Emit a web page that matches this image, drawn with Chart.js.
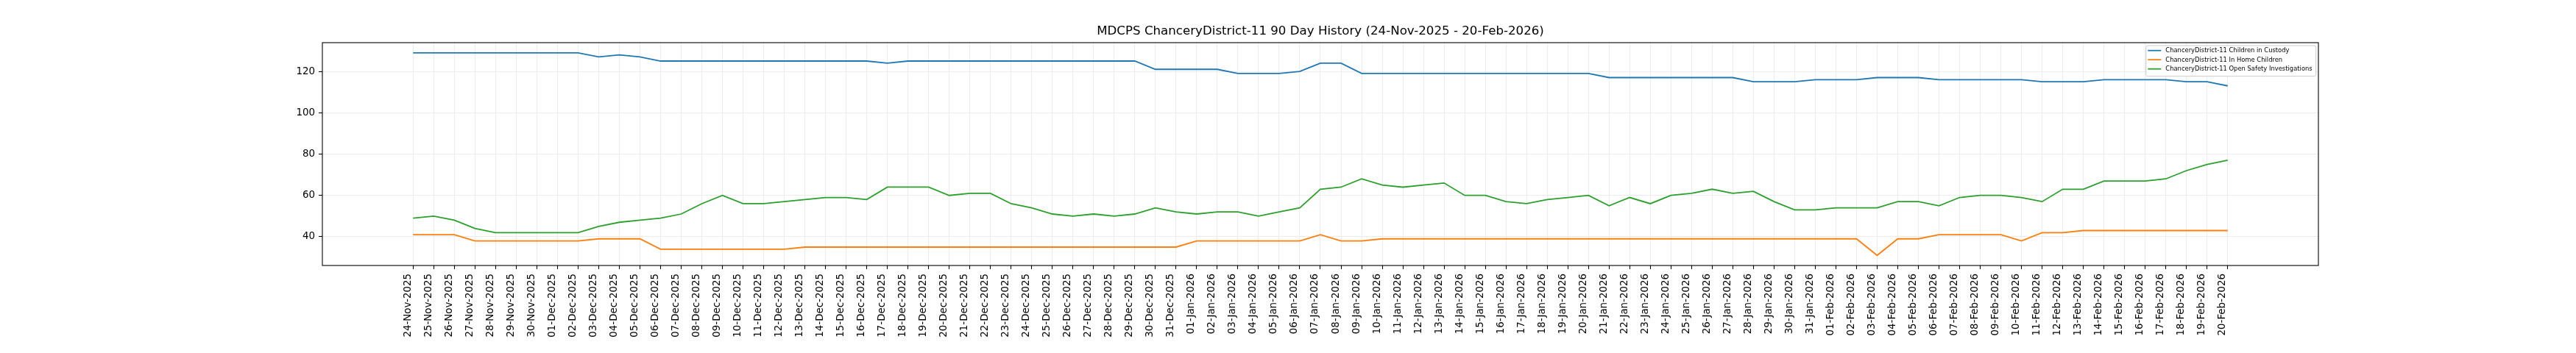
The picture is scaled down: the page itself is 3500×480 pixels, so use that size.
<!DOCTYPE html>
<html><head><meta charset="utf-8">
<script src="https://cdn.jsdelivr.net/npm/chart.js@4.4.1/dist/chart.umd.min.js"></script>
<style>html,body{margin:0;padding:0;background:#fff;}#wrap{width:3500px;height:480px;position:relative;}</style>
</head><body><div id="wrap"><canvas id="c"></canvas></div>
<script>
const chartTitle = 'MDCPS ChanceryDistrict-11 90 Day History (24-Nov-2025 - 20-Feb-2026)';
const dates = [
'24-Nov-2025','25-Nov-2025','26-Nov-2025','27-Nov-2025','28-Nov-2025','29-Nov-2025','30-Nov-2025',
'01-Dec-2025','02-Dec-2025','03-Dec-2025','04-Dec-2025','05-Dec-2025','06-Dec-2025','07-Dec-2025','08-Dec-2025','09-Dec-2025','10-Dec-2025',
'11-Dec-2025','12-Dec-2025','13-Dec-2025','14-Dec-2025','15-Dec-2025','16-Dec-2025','17-Dec-2025','18-Dec-2025','19-Dec-2025','20-Dec-2025',
'21-Dec-2025','22-Dec-2025','23-Dec-2025','24-Dec-2025','25-Dec-2025','26-Dec-2025','27-Dec-2025','28-Dec-2025','29-Dec-2025','30-Dec-2025','31-Dec-2025',
'01-Jan-2026','02-Jan-2026','03-Jan-2026','04-Jan-2026','05-Jan-2026','06-Jan-2026','07-Jan-2026','08-Jan-2026','09-Jan-2026','10-Jan-2026',
'11-Jan-2026','12-Jan-2026','13-Jan-2026','14-Jan-2026','15-Jan-2026','16-Jan-2026','17-Jan-2026','18-Jan-2026','19-Jan-2026','20-Jan-2026',
'21-Jan-2026','22-Jan-2026','23-Jan-2026','24-Jan-2026','25-Jan-2026','26-Jan-2026','27-Jan-2026','28-Jan-2026','29-Jan-2026','30-Jan-2026','31-Jan-2026',
'01-Feb-2026','02-Feb-2026','03-Feb-2026','04-Feb-2026','05-Feb-2026','06-Feb-2026','07-Feb-2026','08-Feb-2026','09-Feb-2026','10-Feb-2026',
'11-Feb-2026','12-Feb-2026','13-Feb-2026','14-Feb-2026','15-Feb-2026','16-Feb-2026','17-Feb-2026','18-Feb-2026','19-Feb-2026','20-Feb-2026'
];
const custody = [
129,129,129,129,129,129,129,129,129,127,
128,127,125,125,125,125,125,125,125,125,
125,125,125,124,125,125,125,125,125,125,
125,125,125,125,125,125,121,121,121,121,
119,119,119,120,124,124,119,119,119,119,
119,119,119,119,119,119,119,119,117,117,
117,117,117,117,117,115,115,115,116,116,
116,117,117,117,116,116,116,116,116,115,
115,115,116,116,116,116,115,115,113
];
const inHome = [
41,41,41,38,38,38,38,38,38,39,
39,39,34,34,34,34,34,34,34,35,
35,35,35,35,35,35,35,35,35,35,
35,35,35,35,35,35,35,35,38,38,
38,38,38,38,41,38,38,39,39,39,
39,39,39,39,39,39,39,39,39,39,
39,39,39,39,39,39,39,39,39,39,
39,31,39,39,41,41,41,41,38,42,
42,43,43,43,43,43,43,43,43
];
const investigations = [
49,50,48,44,42,42,42,42,42,45,
47,48,49,51,56,60,56,56,57,58,
59,59,58,64,64,64,60,61,61,56,
54,51,50,51,50,51,54,52,51,52,
52,50,52,54,63,64,68,65,64,65,
66,60,60,57,56,58,59,60,55,59,
56,60,61,63,61,62,57,53,53,54,
54,54,57,57,55,59,60,60,59,57,
63,63,67,67,67,68,72,75,77
];
const seriesLabels = [
'ChanceryDistrict-11 Children in Custody',
'ChanceryDistrict-11 In Home Children',
'ChanceryDistrict-11 Open Safety Investigations'
];
const seriesValues = [custody, inHome, investigations];
const seriesColors = ['#1f77b4', '#ff7f0e', '#2ca02c'];
const yTicks = [40, 60, 80, 100, 120];

// matplotlib-style 5% margins
const allVals = seriesValues.flat();
const vMin = Math.min(...allVals), vMax = Math.max(...allVals);
const yMin = vMin - 0.05 * (vMax - vMin), yMax = vMax + 0.05 * (vMax - vMin);
const xPad = 0.05 * (dates.length - 1);

const FONT = "'DejaVu Sans', sans-serif";
const tickFont = {family: FONT, size: 13.4};
const gridCfg = {color: '#ececec', lineWidth: 1, tickColor: '#000000', tickLength: 5, tickWidth: 1.1};

const framePlugin = {
  id: 'frame',
  afterDatasetsDraw(chart) {
    const {ctx, chartArea: a} = chart;
    ctx.save();
    ctx.strokeStyle = '#000';
    ctx.lineWidth = 1.1;
    ctx.strokeRect(a.left, a.top, a.right - a.left, a.bottom - a.top);
    ctx.restore();
  }
};

const boxLegend = {
  id: 'boxLegend',
  afterDraw(chart) {
    const {ctx, chartArea: a} = chart;
    const fs = 8.4;
    ctx.save();
    ctx.font = fs + "px " + FONT;
    const ds = chart.data.datasets;
    const tw = Math.max(...ds.map(d => ctx.measureText(d.label).width));
    const pad = 2.5, handle = 18, gap = 6;
    const w = pad + handle + gap + tw + 5;
    const h = 41.7;
    const x = a.right - 3.3 - w, y = a.top + 4;
    ctx.beginPath();
    ctx.roundRect(x, y, w, h, 2.5);
    ctx.fillStyle = 'rgba(255,255,255,0.8)';
    ctx.fill();
    ctx.strokeStyle = '#cccccc';
    ctx.lineWidth = 1;
    ctx.stroke();
    ds.forEach((d, i) => {
      const cy = y + 6.7 + i * 12.5;
      ctx.beginPath();
      ctx.moveTo(x + pad, cy);
      ctx.lineTo(x + pad + handle, cy);
      ctx.strokeStyle = d.borderColor;
      ctx.lineWidth = 1.8;
      ctx.stroke();
      ctx.fillStyle = '#000';
      ctx.textBaseline = 'middle';
      ctx.textAlign = 'left';
      ctx.fillText(d.label, x + pad + handle + gap, cy + 0.5);
    });
    ctx.restore();
  }
};

new Chart(document.getElementById('c'), {
  type: 'line',
  data: {
    datasets: seriesValues.map((vals, k) => ({
      label: seriesLabels[k],
      data: vals.map((v, i) => ({x: i, y: v})),
      borderColor: seriesColors[k],
      backgroundColor: seriesColors[k],
      borderWidth: 1.8,
      pointRadius: 0,
      fill: false,
      tension: 0
    }))
  },
  options: {
    responsive: true,
    maintainAspectRatio: false,
    animation: false,
    devicePixelRatio: 1,
    layout: {padding: {left: 0, right: 350, top: 0, bottom: 0}},
    scales: {
      x: {
        type: 'linear',
        min: -xPad,
        max: dates.length - 1 + xPad,
        afterBuildTicks: s => { s.ticks = dates.map((d, i) => ({value: i})); },
        afterFit: s => { s.height = 119; },
        ticks: {autoSkip: false, minRotation: 90, maxRotation: 90, padding: 6, labelOffset: -7,
                color: '#000', font: tickFont,
                callback: v => (dates[v] !== undefined ? dates[v] : '')},
        grid: gridCfg,
        border: {display: false}
      },
      y: {
        type: 'linear',
        min: yMin,
        max: yMax,
        afterBuildTicks: s => { s.ticks = yTicks.map(v => ({value: v})); },
        afterFit: s => { s.width = 438; },
        ticks: {padding: 5, color: '#000', font: tickFont},
        grid: gridCfg,
        border: {display: false}
      }
    },
    plugins: {
      legend: {display: false},
      tooltip: {enabled: false},
      title: {
        display: true,
        fullSize: false,
        text: chartTitle,
        color: '#000',
        font: {family: FONT, size: 16.67, weight: 'normal', lineHeight: 1.2},
        padding: {top: 33, bottom: 5}
      }
    }
  },
  plugins: [framePlugin, boxLegend]
});
</script>
</body></html>
